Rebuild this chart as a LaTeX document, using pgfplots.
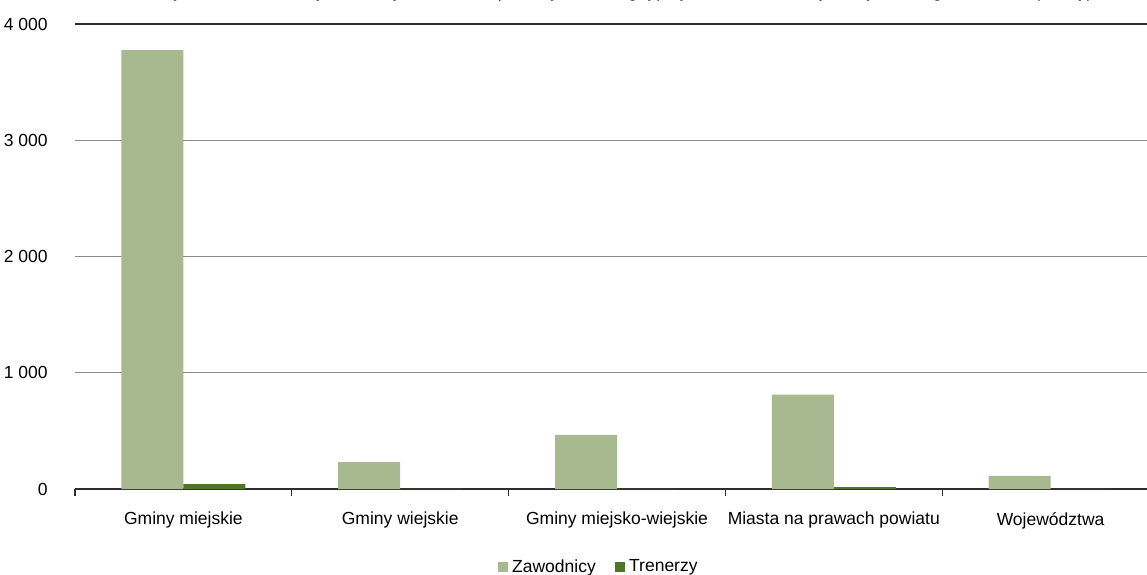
\documentclass[border=0pt]{standalone}
\usepackage{pgfplots}
\pgfplotsset{compat=1.18}
\usepackage{fontspec}
\setmainfont{Liberation Sans}
\definecolor{zaw}{RGB}{169,185,143}
\definecolor{tren}{RGB}{79,118,40}
\definecolor{gridgray}{RGB}{140,140,140}
\definecolor{axdark}{RGB}{45,45,45}
\begin{document}
\fontsize{8.75}{10.5}\selectfont
\begin{tikzpicture}
\begin{axis}[
  at={(0,0)}, anchor=south west,
  scale only axis, width=542pt, height=232.5pt,
  xmin=-0.5, xmax=4.5, ymin=0, ymax=4000,
  ybar=0pt, bar width=31pt,
  axis x line=bottom, axis y line=left,
  x axis line style={-, draw=axdark, line width=0.7pt},
  y axis line style={draw=none},
  xtick={-0.5,0.5,1.5,2.5,3.5,4.5},
  x tick label as interval,
  xticklabels={Gminy miejskie, Gminy wiejskie, Gminy miejsko-wiejskie, Miasta na prawach powiatu, Województwa},
  tick align=outside, major tick length=3.5pt,
  xtick style={draw=axdark, line width=0.6pt},
  xticklabel style={font=\fontsize{8.75}{10.5}\selectfont, yshift=-5pt},
  ytick={0,1000,2000,3000},
  yticklabels={0,1 000,2 000,3 000},
  extra y ticks={4000}, extra y tick labels={4 000},
  extra y tick style={grid style={draw=axdark, line width=0.7pt}},
  ytick style={draw=none},
  yticklabel style={font=\fontsize{8.75}{10.5}\selectfont, inner sep=0pt, anchor=east, xshift=-10pt},
  ymajorgrids, grid style={draw=gridgray, line width=0.6pt},
  legend style={at={(0.484,-0.168)}, anchor=center, draw=none, fill=none,
    legend columns=2, font=\fontsize{8.75}{10.5}\selectfont,
    /tikz/every even column/.append style={column sep=7.5pt}},
  legend image code/.code={\fill[#1] (0pt,-2.6pt) rectangle (5.2pt,2.6pt);},
]
\addplot[fill=zaw, draw=none] coordinates {(0,3776) (1,232) (2,465) (3,811) (4,112)};
\addlegendentry{Zawodnicy}
\addplot[fill=tren, draw=none] coordinates {(0,43) (1,1) (2,1) (3,17) (4,1)};
\addlegendentry{Trenerzy}
\end{axis}
\node[anchor=base] at (275pt,245.5pt) {Wykres 6. Zawodnicy i trenerzy w klubach sportowych według typu jednostki samorządu terytorialnego w 2016 r. (osoby)};
\pgfresetboundingbox
\useasboundingbox (-37.5pt,-42.5pt) rectangle (536pt,244.5pt);
\end{tikzpicture}
\end{document}
